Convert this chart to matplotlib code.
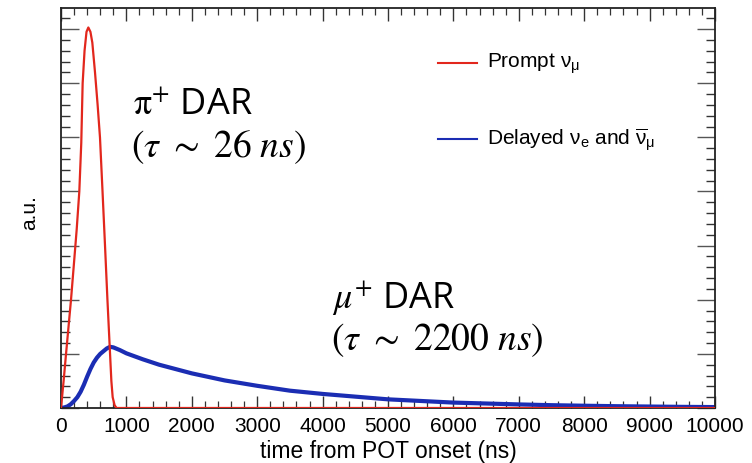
import matplotlib
matplotlib.use("Agg")
import matplotlib.pyplot as plt
from matplotlib.ticker import MultipleLocator

plt.rcParams['mathtext.fontset'] = 'custom'
plt.rcParams['mathtext.rm'] = 'Liberation Sans'
plt.rcParams['mathtext.it'] = 'Liberation Sans:italic'
plt.rcParams['mathtext.bf'] = 'Liberation Sans:bold'
plt.rcParams['font.family'] = ['Liberation Sans', 'DejaVu Sans']

# ---- data (arbitrary units) ----
prompt_t = [0, 40, 77, 115, 153, 200, 240, 280, 310, 331, 360, 390, 418, 450,
            479, 520, 560, 596, 635, 673, 710, 750, 770, 790, 820, 850, 10000]
prompt_y = [0, 0.5, 1.0, 1.5, 2.0, 2.7, 3.3, 4.0, 4.9, 6.0, 6.6, 6.95, 7.03, 6.95,
            6.75, 6.2, 5.6, 5.0, 4.0, 3.0, 2.0, 1.0, 0.5, 0.2, 0.05, 0.0, 0.0]

delayed_t = [0, 50, 100, 150, 200, 250, 300, 350, 400, 450, 500, 550, 600, 650,
             700, 750, 800, 900, 1000, 1250, 1500, 1750, 2000, 2500, 3000, 3500,
             4000, 4500, 5000, 5500, 6000, 6500, 7000, 7500, 8000, 8500, 9000,
             9500, 10000]
delayed_y = [0, 0.01, 0.03, 0.07, 0.13, 0.20, 0.30, 0.43, 0.58, 0.72, 0.84, 0.93,
             1.00, 1.05, 1.10, 1.13, 1.12, 1.07, 1.01, 0.90, 0.80, 0.72, 0.64,
             0.51, 0.41, 0.32, 0.26, 0.21, 0.16, 0.13, 0.10, 0.083, 0.066, 0.052,
             0.042, 0.033, 0.027, 0.021, 0.017]

xticks = [0, 1000, 2000, 3000, 4000, 5000, 6000, 7000, 8000, 9000, 10000]

RED = '#e2271d'
BLUE = '#1b2db3'
W, H = 752, 464

fig = plt.figure(figsize=(W / 100, H / 100), dpi=100)
ax = fig.add_axes([61 / W, 1 - 409 / H, (715 - 61) / W, (409 - 9) / H])

ax.plot(delayed_t, delayed_y, color=BLUE, lw=3.0, solid_capstyle='butt', zorder=2)
ax.plot(prompt_t, prompt_y, color=RED, lw=1.6, zorder=3)

ax.set_xlim(0, 10000)
ax.set_ylim(0, 7.39)
ax.set_xticks(xticks)
ax.set_xticklabels([str(v) for v in xticks])
ax.xaxis.set_minor_locator(MultipleLocator(200))
ax.yaxis.set_major_locator(MultipleLocator(1))
ax.yaxis.set_minor_locator(MultipleLocator(0.2))
ax.set_yticklabels([])
ax.tick_params(axis='x', which='major', direction='in', length=9, width=1.0,
               top=True, bottom=True, labelsize=15, pad=6, color='#333333')
ax.tick_params(axis='x', which='minor', direction='in', length=5, width=0.9,
               top=True, bottom=True, color='#333333')
ax.tick_params(axis='y', which='major', direction='in', length=13, width=1.0,
               left=True, right=True, color='#555555')
ax.tick_params(axis='y', which='minor', direction='in', length=6.5, width=1.0,
               left=True, right=True, color='#333333')
for s in ax.spines.values():
    s.set_linewidth(1.3)
    s.set_color('#222222')

ax.set_xlabel('time from POT onset (ns)', fontsize=16.5, labelpad=3)
fig.text(30 / W, 1 - 213 / H, 'a.u.', rotation=90, fontsize=15,
         ha='center', va='center')

# legend drawn by hand
fig.add_artist(plt.Line2D([438 / W, 477 / W], [1 - 64 / H, 1 - 64 / H],
                          color=RED, lw=1.5))
fig.add_artist(plt.Line2D([438 / W, 477 / W], [1 - 140 / H, 1 - 140 / H],
                          color=BLUE, lw=1.5))
fig.text(487 / W, 1 - 68 / H, r'Prompt $\mathrm{\nu}_{\mathrm{\mu}}$',
         fontsize=15, va='baseline', ha='left')
fig.text(487 / W, 1 - 145 / H,
         r'Delayed $\mathrm{\nu}_{\mathrm{e}}$ and $\overline{\mathrm{\nu}}_{\mathrm{\mu}}$',
         fontsize=15, va='baseline', ha='left')

# annotations
fig.text(133 / W, 1 - 115 / H, r'$\mathrm{\pi}^{+}$ DAR', fontsize=26,
         family=['Open Sans', 'DejaVu Sans'], math_fontfamily='stix',
         va='baseline', ha='left')
fig.text(131 / W, 1 - 157 / H, r'$(\tau\ \sim\ 26\ ns)$', fontsize=27,
         math_fontfamily='stix', va='baseline', ha='left')
fig.text(332 / W, 1 - 308 / H, r'$\mu^{+}$ DAR', fontsize=26,
         family=['Open Sans', 'DejaVu Sans'], math_fontfamily='stix',
         va='baseline', ha='left')
fig.text(331 / W, 1 - 350 / H, r'$(\tau\ \sim\ 2200\ ns)$', fontsize=27,
         math_fontfamily='stix', va='baseline', ha='left')

fig.savefig('out.png', dpi=100)
